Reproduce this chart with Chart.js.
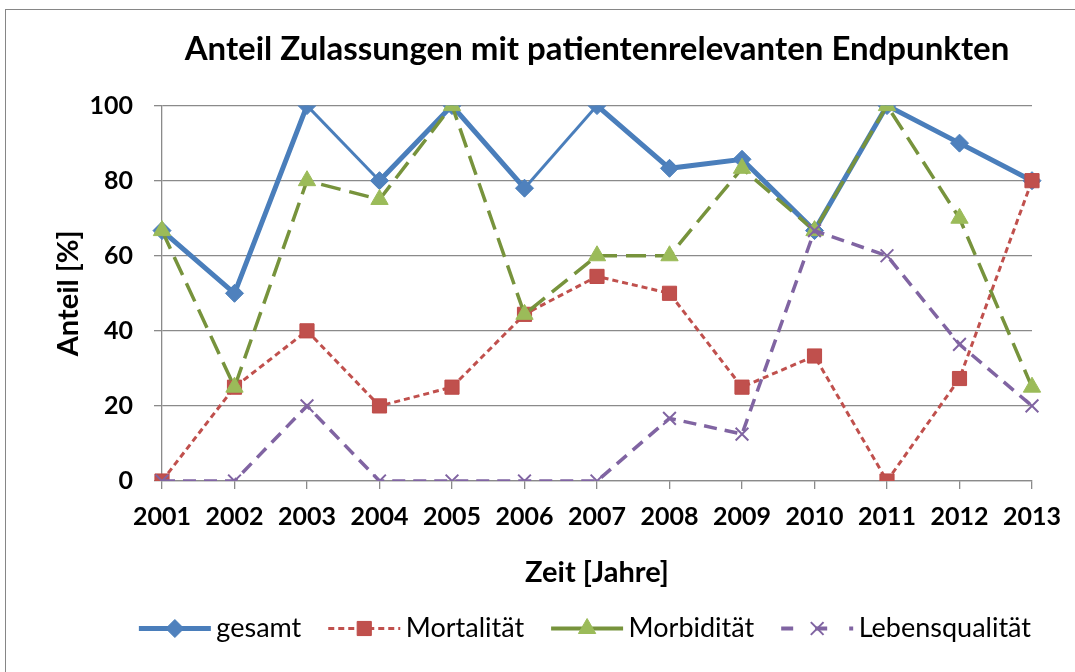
<!DOCTYPE html>
<html>
<head>
<meta charset="utf-8">
<script src="https://cdn.jsdelivr.net/npm/chart.js@4.4.1/dist/chart.umd.min.js"></script>
<style>
  body { margin: 0; background: #fff; overflow: hidden; }
  #frame { position: absolute; left: 5px; top: 9px; width: 1200px; height: 800px; border: 1px solid #868686; }
  #wrap { position: absolute; left: 0; top: 0; width: 1075px; height: 672px; }
</style>
</head>
<body>
<div id="frame"></div>
<div id="wrap"><canvas id="chart1" width="1075" height="672"></canvas></div>
<script>
const years = ['2001', '2002', '2003', '2004', '2005', '2006', '2007', '2008', '2009', '2010', '2011', '2012', '2013'];
const gesamt = [66.7, 50, 100, 80, 100, 78, 100, 83.3, 85.7, 66.7, 100, 90, 80];
const mortalitaet = [0, 25, 40, 20, 25, 44.4, 54.5, 50, 25, 33.3, 0, 27.3, 80];
const morbiditaet = [66.7, 25, 80, 75, 100, 44.4, 60, 60, 83.3, 66.7, 100, 70, 25];
const lebensqualitaet = [0, 0, 20, 0, 0, 0, 0, 16.7, 12.5, 66.7, 60, 36.4, 20];
const yTicks = [0, 20, 40, 60, 80, 100];

const ctx = document.getElementById('chart1');
const gridGray = '#8a8a8a';
const thinSeg = [2, 5]; // in the original a few gesamt segments are drawn thinner

// draws the excel-like legend sample (line + marker) into the empty legend boxes
const legendLines = {
  id: 'legendLines',
  afterDraw(chart) {
    const lg = chart.legend;
    if (!lg || !lg.legendHitBoxes) return;
    const c = chart.ctx;
    lg.legendItems.forEach((item, i) => {
      const box = lg.legendHitBoxes[i];
      const ds = chart.data.datasets[item.datasetIndex];
      const y = box.top + box.height / 2;
      const x0 = box.left + 26;
      c.save();
      c.strokeStyle = ds.borderColor;
      c.lineWidth = ds.legendWidth;
      c.setLineDash(ds.legendDash);
      c.beginPath();
      c.moveTo(x0, y);
      c.lineTo(x0 + 72, y);
      c.stroke();
      c.setLineDash([]);
      c.fillStyle = ds.pointBackgroundColor;
      c.strokeStyle = ds.pointBorderColor;
      c.lineWidth = ds.pointBorderWidth;
      Chart.helpers.drawPoint(c, {pointStyle: ds.pointStyle, radius: ds.pointRadius, borderWidth: ds.pointBorderWidth, rotation: 0}, x0 + 36, y);
      c.restore();
    });
  }
};

new Chart(ctx, {
  type: 'line',
  data: {
    labels: years,
    datasets: [{
      label: 'gesamt',
      data: gesamt,
      order: 3,
      borderColor: '#4A7EBB',
      borderWidth: 5,
      segment: {
        borderWidth: c => thinSeg.includes(c.p0DataIndex) ? 3 : 5
      },
      pointStyle: 'rectRot',
      pointRadius: 9,
      pointBackgroundColor: '#4F81BD',
      pointBorderColor: '#4A7EBB',
      pointBorderWidth: 1,
      legendWidth: 5,
      legendDash: []
    }, {
      label: 'Mortalität',
      data: mortalitaet,
      order: 2,
      borderColor: '#C0504D',
      borderWidth: 3,
      borderDash: [6, 4],
      pointStyle: 'rect',
      pointRadius: 10,
      pointBackgroundColor: '#C0504D',
      pointBorderColor: '#BE4B48',
      pointBorderWidth: 1,
      legendWidth: 3,
      legendDash: [6, 4]
    }, {
      label: 'Morbidität',
      data: morbiditaet,
      order: 1,
      borderColor: '#77933C',
      borderWidth: 3.5,
      borderDash: [20, 9],
      pointStyle: 'triangle',
      pointRadius: 10,
      pointBackgroundColor: '#9BBB59',
      pointBorderColor: '#9BBB59',
      pointBorderWidth: 1,
      legendWidth: 4,
      legendDash: []
    }, {
      label: 'Lebensqualität',
      data: lebensqualitaet,
      order: 0,
      borderColor: '#8064A2',
      borderWidth: 3.5,
      borderDash: [13, 8],
      pointStyle: 'crossRot',
      pointRadius: 9,
      pointBackgroundColor: '#8064A2',
      pointBorderColor: '#8064A2',
      pointBorderWidth: 2,
      legendWidth: 4,
      legendDash: [12, 22]
    }]
  },
  options: {
    responsive: false,
    animation: false,
    devicePixelRatio: 1,
    layout: {
      padding: {left: 0, right: 43, top: 0, bottom: 20}
    },
    plugins: {
      tooltip: {enabled: false},
      title: {
        display: true,
        text: 'Anteil Zulassungen mit patientenrelevanten Endpunkten',
        fullSize: false,
        color: '#000',
        font: {family: 'Lato', size: 33, weight: 'bold'},
        padding: {top: 30, bottom: 36}
      },
      legend: {
        position: 'bottom',
        align: 'end',
        labels: {
          color: '#000',
          font: {family: 'Lato', size: 27},
          boxWidth: 90,
          boxHeight: 27,
          padding: 1,
          sort: (a, b) => a.datasetIndex - b.datasetIndex,
          generateLabels: chart => Chart.defaults.plugins.legend.labels.generateLabels(chart).map(l => Object.assign(l, {
            fillStyle: 'rgba(0,0,0,0)',
            strokeStyle: 'rgba(0,0,0,0)',
            lineWidth: 0,
            lineDash: []
          }))
        }
      }
    },
    scales: {
      x: {
        offset: false,
        afterFit: s => { s.height = 133; },
        grid: {
          display: true,
          drawOnChartArea: false,
          drawTicks: true,
          tickLength: 8,
          color: gridGray,
          lineWidth: 1.3
        },
        border: {display: true, color: gridGray, width: 1.3},
        ticks: {
          color: '#000',
          font: {family: 'Lato', size: 25, weight: 'bold'},
          padding: 13,
          maxRotation: 0,
          autoSkip: false
        },
        title: {
          display: true,
          text: 'Zeit [Jahre]',
          color: '#000',
          font: {family: 'Lato', size: 29, weight: 'bold'},
          padding: {top: 0, bottom: 24}
        }
      },
      y: {
        min: yTicks[0],
        max: yTicks[yTicks.length - 1],
        afterFit: s => { s.width = 162; },
        afterBuildTicks: s => { s.ticks = yTicks.map(v => ({value: v})); },
        grid: {
          color: gridGray,
          lineWidth: 1.3,
          drawTicks: true,
          tickLength: 8
        },
        border: {display: true, color: gridGray, width: 1.3},
        ticks: {
          color: '#000',
          font: {family: 'Lato', size: 25, weight: 'bold'},
          padding: 21
        },
        title: {
          display: true,
          text: 'Anteil [%]',
          color: '#000',
          font: {family: 'Lato', size: 29, weight: 'bold'},
          padding: {top: 51, bottom: 0}
        }
      }
    }
  },
  plugins: [legendLines]
});
</script>
</body>
</html>
